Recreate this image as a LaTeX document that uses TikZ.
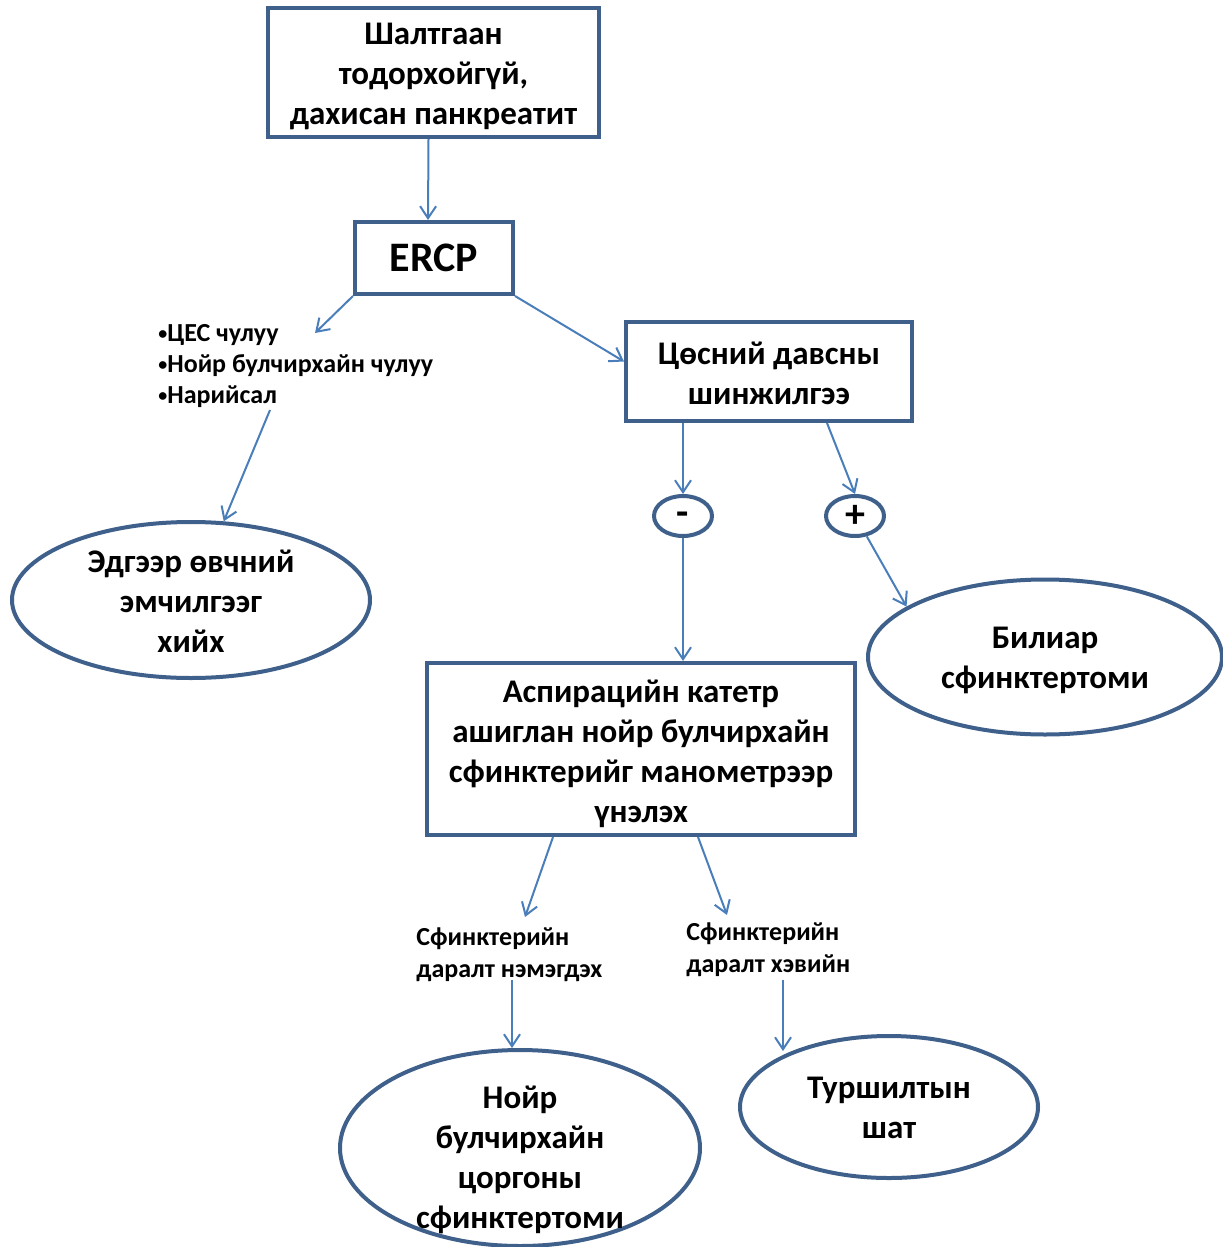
\documentclass[tikz,border=0pt]{standalone}
\usepackage{fontspec}
\setmainfont{Carlito}
\usetikzlibrary{shapes.geometric,arrows.meta,calc}
\definecolor{boxc}{RGB}{62,96,138}
\definecolor{arrc}{RGB}{74,126,187}
\newcommand{\mybul}{\raisebox{0.12ex}{\fontsize{9}{9}\selectfont•}}
\begin{document}
\begin{tikzpicture}[x=0.5pt,y=-0.5pt,
 bx/.style={draw=boxc,line width=2pt,fill=white,inner sep=0pt,align=center,font=\bfseries\fontsize{16.5}{20}\selectfont},
 ov/.style={ellipse,draw=boxc,line width=2pt,inner sep=0pt},
 txt/.style={align=center,inner sep=0pt,font=\bfseries\fontsize{16.5}{20}\selectfont},
 sm/.style={align=left,inner sep=0pt,font=\bfseries\fontsize{13}{16}\selectfont},
 arr/.style={draw=arrc,line width=1pt,-{Straight Barb[length=6pt,width=8pt]}}]
\useasboundingbox (0,0) rectangle (1222,1247);

% boxes
\node[bx,minimum width=165.5pt,minimum height=64.5pt] (top) at (433.5,72.5) {};
\node[txt] (topt) at (433.5,76) {Шалтгаан\\тодорхойгүй,\\дахисан панкреатит};
\node[bx,minimum width=79pt,minimum height=36pt,font=\bfseries\fontsize{21}{24}\selectfont] (ercp) at (434,258) {ERCP};
\node[bx,minimum width=143pt,minimum height=49.5pt] (bile) at (769,371.5) {};
\node[txt] (bilet) at (769,373) {Цөсний давсны\\шинжилгээ};
\node[bx,minimum width=214pt,minimum height=86pt] (mano) at (641,749) {};
\node[txt] (manot) at (641,754) {Аспирацийн катетр\\ашиглан нойр булчирхайн\\сфинктерийг манометрээр\\үнэлэх};

% list
\node[sm,anchor=west,font=\bfseries\fontsize{13}{15.5}\selectfont] (list) at (158,366) {\mybul ЦЕС чулуу\\\mybul Нойр булчирхайн чулуу\\\mybul Нарийсал};

% ellipses
\node[ov,minimum width=179pt,minimum height=78pt] (ell1) at (191,600) {};
\node[txt] (ell1t) at (191,601) {Эдгээр өвчний\\эмчилгээг\\хийх};
\node[ov,minimum width=29pt,minimum height=20pt] (minus) at (683,516) {};
\node[txt,font=\bfseries\fontsize{20}{20}\selectfont] (minust) at (683,519) {-};
\node[ov,minimum width=29pt,minimum height=20pt] (plus) at (855,516) {};
\node[txt,font=\bfseries\fontsize{20}{20}\selectfont] (plust) at (855,516) {+};
\node[ov,minimum width=177pt,minimum height=77.5pt] (bil) at (1045,657) {};
\node[txt] (bilt) at (1045,660) {Билиар\\сфинктертоми};
\node[ov,minimum width=180pt,minimum height=98pt] (ell3) at (520,1148) {};
\node[txt] (ell3t) at (520,1160) {Нойр\\булчирхайн\\цоргоны\\сфинктертоми};
\node[ov,minimum width=149pt,minimum height=71pt] (ell4) at (889,1107) {};
\node[txt] (ell4t) at (889,1108) {Туршилтын\\шат};

% labels
\node[sm,anchor=west] (lab1) at (416,955) {Сфинктерийн\\даралт нэмэгдэх};
\node[sm,anchor=west] (lab2) at (686,950) {Сфинктерийн\\даралт хэвийн};

% coordinates for free ends
\coordinate (lt) at (315,333);
\coordinate (lb) at (270,410);
\coordinate (c1) at (525,917);
\coordinate (c2) at (727,915);
\coordinate (c3) at (512,980);
\coordinate (c4) at (783,980);

% connectors
\draw[arr] ($(top.south)+(-5,0)$) -- ($(ercp.north)+(-6,0)$);
\draw[arr] (ercp.south west) -- (lt);
\draw[arr] (ercp.south east) -- ($(bile.west)+(0,-10)$);
\draw[arr] (lb) -- (ell1);
\draw[arr] (bile.south -| minus) -- (minus.north);
\draw[arr] ($(bile.south)+(58,0)$) -- (plus.north);
\draw[arr] (minus.south) -- (mano.north -| minus);
\draw[arr] (plus.-60) -- (bil.160);
\draw[arr] ($(mano.south)+(-88,0)$) -- (c1);
\draw[arr] ($(mano.south)+(57,0)$) -- (c2);
\draw[arr] (c3) -- (c3 |- ell3.north);
\draw[arr] (c4) -- (c4 |- ell4.150);
\end{tikzpicture}
\end{document}
